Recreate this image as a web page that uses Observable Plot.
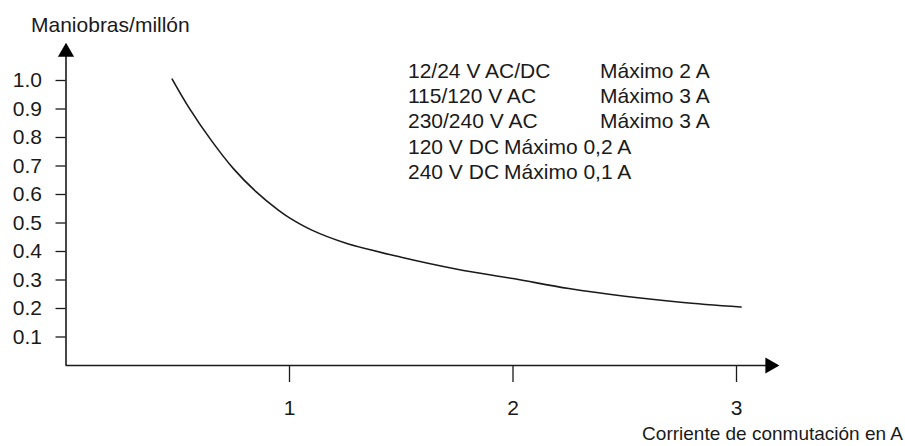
<!DOCTYPE html>
<html>
<head>
<meta charset="utf-8">
<script src="https://cdn.jsdelivr.net/npm/d3@7"></script>
<script src="https://cdn.jsdelivr.net/npm/@observablehq/plot@0.6"></script>
<style>
  body { margin: 0; background: #fff; font-family: "Liberation Sans", Arial, sans-serif; color: #1a1a1a; }
  #wrap { position: relative; width: 905px; height: 446px; overflow: hidden; }
  #wrap svg { position: absolute; left: 0; top: 0; }
  .title { position: absolute; white-space: nowrap; line-height: 1; }
  #ytitle { left: 31px; top: 14px; font-size: 21px; }
  #xtitle { right: 2px; top: 424px; font-size: 19px; }
  #legend { position: absolute; left: 408px; top: 57.5px; font-size: 21px; line-height: 25.4px; }
  #legend .row { white-space: nowrap; }
  #legend .v { display: inline-block; }
  #legend .v.col { width: 192px; }
  #legend .v.inline { margin-right: 5px; }
</style>
</head>
<body>
<div id="wrap"></div>
<script>
// ---- data ----
const current = [0.475, 0.55, 0.65, 0.75, 0.85, 0.95, 1.0, 1.1, 1.25, 1.5, 1.75, 2.0, 2.25, 2.5, 2.75, 3.02];
const operations = [1.005, 0.905, 0.79, 0.69, 0.61, 0.545, 0.518, 0.475, 0.43, 0.38, 0.338, 0.305, 0.27, 0.243, 0.222, 0.205];
const xTicks = [1, 2, 3];
const yTicks = [0.1, 0.2, 0.3, 0.4, 0.5, 0.6, 0.7, 0.8, 0.9, 1.0];
const xDomain = [0, 3];
const yDomain = [0, 1];
const xAxisEnd = [3.15];   // arrow head centre on x axis (data units)
const yAxisEnd = [1.10];   // arrow head centre on y axis (data units)
const yTitle = "Maniobras/millón";
const xTitle = "Corriente de conmutación en A";
const ratings = ["12/24 V AC/DC", "115/120 V AC", "230/240 V AC", "120 V DC", "240 V DC"];
const limits = ["Máximo 2 A", "Máximo 3 A", "Máximo 3 A", "Máximo 0,2 A", "Máximo 0,1 A"];
const tabulated = [true, true, true, false, false];

const curve = current.map((x, i) => ({x, y: operations[i]}));
const ink = "#1a1a1a";

const chart = Plot.plot({
  width: 905,
  height: 446,
  marginLeft: 65.5,
  marginRight: 169,
  marginTop: 80,
  marginBottom: 81,
  x: {domain: xDomain},
  y: {domain: yDomain},
  style: {fontFamily: '"Liberation Sans", Arial, sans-serif', fontSize: "21px", color: ink, background: "#fff", overflow: "visible"},
  marks: [
    Plot.axisX({ticks: xTicks, tickSize: 17, tickPadding: 18, tickFormat: d3.format("d"), label: null, strokeWidth: 1.3, fontSize: 21}),
    Plot.axisY({ticks: yTicks, tickSize: 10, tickPadding: 14, tickFormat: d3.format(".1f"), label: null, strokeWidth: 1.3, fontSize: 21}),
    Plot.ruleY([0], {x1: 0, x2: xAxisEnd[0], stroke: ink, strokeWidth: 1.6}),
    Plot.ruleX([0], {y1: 0, y2: yAxisEnd[0], stroke: ink, strokeWidth: 1.6}),
    Plot.dot(xAxisEnd, {x: d => d, y: () => 0, symbol: "triangle", r: 6, fill: "#000", stroke: null, rotate: 90}),
    Plot.dot(yAxisEnd, {x: () => 0, y: d => d, symbol: "triangle", r: 6, fill: "#000", stroke: null}),
    Plot.line(curve, {x: "x", y: "y", curve: "catmull-rom", stroke: ink, strokeWidth: 1.6})
  ]
});

const wrap = document.getElementById("wrap");
wrap.appendChild(chart);

const yt = document.createElement("div");
yt.id = "ytitle"; yt.className = "title"; yt.textContent = yTitle;
wrap.appendChild(yt);
const xt = document.createElement("div");
xt.id = "xtitle"; xt.className = "title"; xt.textContent = xTitle;
wrap.appendChild(xt);

const lg = document.createElement("div");
lg.id = "legend";
ratings.forEach((r, i) => {
  const row = document.createElement("div");
  row.className = "row";
  const v = document.createElement("span");
  v.className = "v " + (tabulated[i] ? "col" : "inline");
  v.textContent = r;
  const m = document.createElement("span");
  m.textContent = limits[i];
  row.appendChild(v); row.appendChild(m);
  lg.appendChild(row);
});
wrap.appendChild(lg);
</script>
</body>
</html>
